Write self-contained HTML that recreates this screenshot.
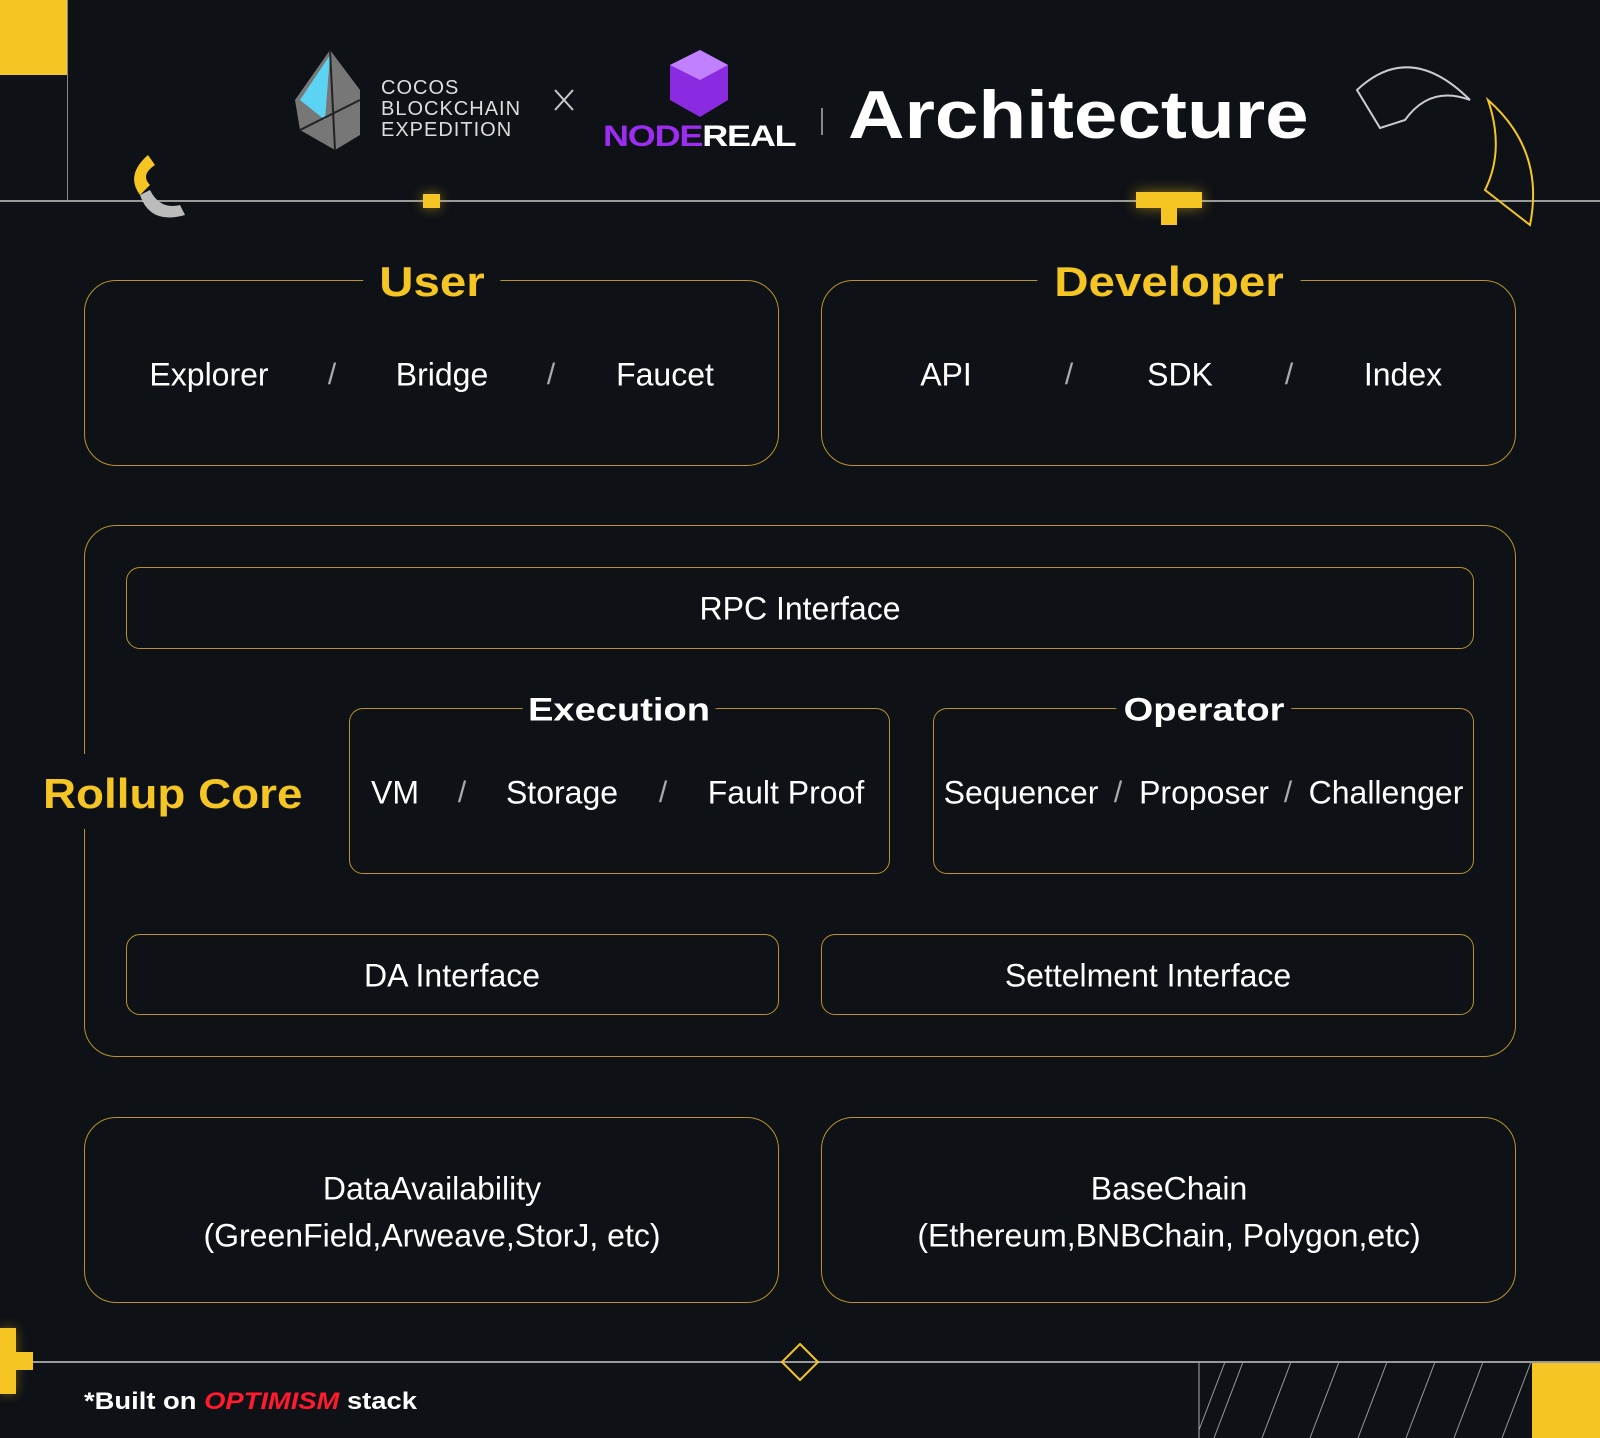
<!DOCTYPE html>
<html><head><meta charset="utf-8"><style>
*{margin:0;padding:0;box-sizing:border-box}
body{width:1600px;height:1438px;background:#0e1116;position:relative;overflow:hidden;font-family:"Liberation Sans",sans-serif;color:#fff}
.a{position:absolute}
.box{position:absolute;border:1.5px solid #b8922a;border-radius:32px}
.sb{position:absolute;border:1.5px solid #b8922a;border-radius:14px}
.t{position:absolute;transform:translate(-50%,-50%);white-space:nowrap;font-size:32px}
.h{position:absolute;transform:translate(-50%,-50%);white-space:nowrap;font-weight:bold;background:#0e1116;padding:0 16px}
.h span{display:inline-block}
.y{color:#f5c623;font-size:42px}
.y span{transform:scaleX(1.13)}
.w{color:#fff;font-size:32px}
.w span{transform:scaleX(1.19)}
.sl{color:#aaa;font-size:30px}
</style></head><body>
<div class="a" style="left:0;top:0;width:67px;height:75px;background:#f5c623"></div>
<div class="a" style="left:67px;top:0;width:1px;height:200px;background:#888"></div>
<div class="a" style="left:0;top:200px;width:1600px;height:1.5px;background:#9a9a9a"></div>
<div class="a" style="left:423px;top:194px;width:17px;height:14px;background:#f5c623;box-shadow:0 0 12px #f5c62388"></div>
<div class="a" style="left:1136px;top:192px;width:66px;height:16px;background:#f5c623;box-shadow:0 0 14px #f5c62388"></div>
<div class="a" style="left:1161px;top:208px;width:16px;height:17px;background:#f5c623"></div>
<svg class="a" style="left:0;top:0" width="1600" height="240">
<path d="M148 155 Q125 175 140 195 L150 185 Q140 175 155 165 Z" fill="#f5c623"/>
<path d="M140 195 Q150 225 185 215 L180 205 Q160 210 150 190 Z" fill="#bbb"/>
<path d="M1357 90 Q1410 40 1470 100 Q1430 85 1405 120 L1380 128 Z" fill="none" stroke="#ccc" stroke-width="2"/>
<path d="M1488 100 Q1545 150 1530 225 L1485 190 Q1505 150 1488 100Z" fill="none" stroke="#f5c623" stroke-width="2"/>
<path d="M330 50 L295 100 L300 130 L335 150 L360 135 L360 90 Z" fill="#777"/>
<path d="M330 55 L300 100 L325 120 Z" fill="#5cd3f2"/>
<path d="M330 50 L335 150 M300 130 L360 100" stroke="#222" stroke-width="2"/>
<path d="M700 50 L728 65 L728 100 L700 117 L670 100 L670 65 Z" fill="#8a2be2"/>
<path d="M700 50 L728 65 L700 80 L670 65 Z" fill="#c080ff"/>
<line x1="555" y1="90" x2="573" y2="110" stroke="#ccc" stroke-width="2"/><line x1="573" y1="90" x2="555" y2="110" stroke="#ccc" stroke-width="2"/>
<line x1="822" y1="108" x2="822" y2="135" stroke="#888" stroke-width="2"/>
</svg>
<div class="a" style="left:381px;top:78px;font-size:20px;line-height:21px;color:#ddd;letter-spacing:1px">COCOS<br>BLOCKCHAIN<br>EXPEDITION</div>
<div class="a" style="left:603px;top:120px;font-size:30px;font-weight:bold;letter-spacing:-1px;transform:scaleX(1.2);transform-origin:left"><span style="color:#9b2cf0">NODE</span><span style="color:#fff">REAL</span></div>
<div class="a" style="left:848px;top:76px;font-size:68px;font-weight:bold;color:#fff;transform:scaleX(1.15);transform-origin:left">Architecture</div>

<div class="box" style="left:84px;top:280px;width:695px;height:186px"></div>
<div class="h y" style="left:432px;top:282px;padding:0 22px"><span>User</span></div>
<div class="t" style="left:209px;top:375px">Explorer</div><div class="t sl" style="left:332px;top:375px">/</div>
<div class="t" style="left:442px;top:375px">Bridge</div><div class="t sl" style="left:551px;top:375px">/</div>
<div class="t" style="left:665px;top:375px">Faucet</div>
<div class="box" style="left:821px;top:280px;width:695px;height:186px"></div>
<div class="h y" style="left:1169px;top:282px;padding:0 30px"><span>Developer</span></div>
<div class="t" style="left:946px;top:375px">API</div><div class="t sl" style="left:1069px;top:375px">/</div>
<div class="t" style="left:1180px;top:375px">SDK</div><div class="t sl" style="left:1289px;top:375px">/</div>
<div class="t" style="left:1403px;top:375px">Index</div>

<div class="box" style="left:84px;top:525px;width:1432px;height:532px"></div>
<div class="a" style="left:80px;top:754px;width:10px;height:75px;background:#0e1116"></div>
<div class="a" style="left:43px;top:770px;font-size:42px;font-weight:bold;color:#f5c623;transform:scaleX(1.09);transform-origin:left">Rollup Core</div>
<div class="sb" style="left:126px;top:567px;width:1348px;height:82px"></div>
<div class="t" style="left:800px;top:609px">RPC Interface</div>
<div class="sb" style="left:349px;top:708px;width:541px;height:166px"></div>
<div class="h w" style="left:619px;top:710px;padding:0 20px"><span>Execution</span></div>
<div class="t" style="left:395px;top:793px">VM</div><div class="t sl" style="left:462px;top:793px">/</div>
<div class="t" style="left:562px;top:793px">Storage</div><div class="t sl" style="left:663px;top:793px">/</div>
<div class="t" style="left:786px;top:793px">Fault Proof</div>
<div class="sb" style="left:933px;top:708px;width:541px;height:166px"></div>
<div class="h w" style="left:1204px;top:710px;padding:0 20px"><span>Operator</span></div>
<div class="t" style="left:1021px;top:793px">Sequencer</div><div class="t sl" style="left:1118px;top:793px">/</div>
<div class="t" style="left:1204px;top:793px">Proposer</div><div class="t sl" style="left:1288px;top:793px">/</div>
<div class="t" style="left:1386px;top:793px">Challenger</div>
<div class="sb" style="left:126px;top:934px;width:653px;height:81px"></div>
<div class="t" style="left:452px;top:976px">DA Interface</div>
<div class="sb" style="left:821px;top:934px;width:653px;height:81px"></div>
<div class="t" style="left:1148px;top:976px">Settelment Interface</div>

<div class="box" style="left:84px;top:1117px;width:695px;height:186px"></div>
<div class="t" style="left:432px;top:1189px">DataAvailability</div>
<div class="t" style="left:432px;top:1236px">(GreenField,Arweave,StorJ, etc)</div>
<div class="box" style="left:821px;top:1117px;width:695px;height:186px"></div>
<div class="t" style="left:1169px;top:1189px">BaseChain</div>
<div class="t" style="left:1169px;top:1236px">(Ethereum,BNBChain, Polygon,etc)</div>

<div class="a" style="left:33px;top:1361px;width:1567px;height:1.5px;background:#9a9a9a"></div>
<div class="a" style="left:0;top:1328px;width:16px;height:66px;background:#f5c623;box-shadow:0 0 12px #f5c62366"></div>
<div class="a" style="left:0;top:1352px;width:33px;height:18px;background:#f5c623"></div>
<svg class="a" style="left:0;top:1300px" width="1600" height="138">
<path d="M800 44 L818 62 L800 80 L782 62 Z" fill="none" stroke="#f5c623" stroke-width="2"/>
<line x1="1199" y1="62" x2="1199" y2="138" stroke="#aaa" stroke-width="1"/>
<g stroke="#999" stroke-width="1">
<line x1="1199" y1="130" x2="1225" y2="62"/><line x1="1214" y1="138" x2="1243" y2="62"/><line x1="1262" y1="138" x2="1291" y2="62"/><line x1="1310" y1="138" x2="1339" y2="62"/><line x1="1358" y1="138" x2="1387" y2="62"/><line x1="1406" y1="138" x2="1435" y2="62"/><line x1="1454" y1="138" x2="1483" y2="62"/><line x1="1502" y1="138" x2="1531" y2="62"/></g>
</svg>
<div class="a" style="left:1532px;top:1363px;width:68px;height:75px;background:#f5c623"></div>
<div class="a" style="left:84px;top:1388px;font-size:24px;font-weight:bold;transform:scaleX(1.14);transform-origin:left">*Built on <i style="color:#ff1a2e">OPTIMISM</i> stack</div>
</body></html>
